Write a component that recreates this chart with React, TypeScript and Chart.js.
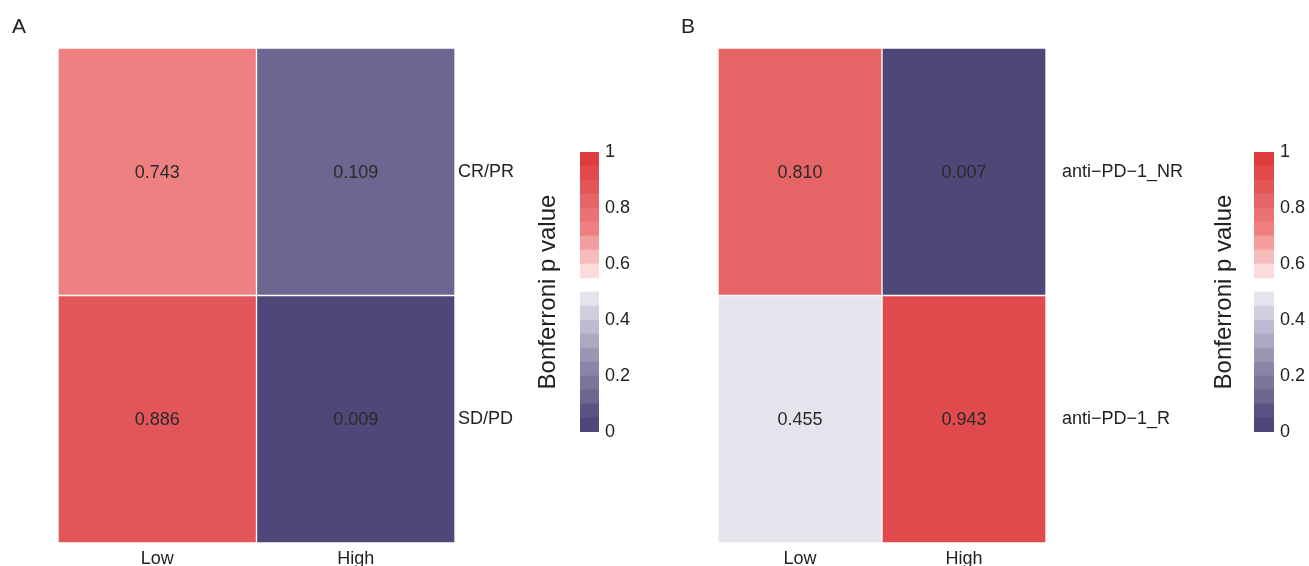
import React, { useEffect, useRef } from 'react';
import { Chart, registerables } from 'chart.js';

Chart.register(...registerables);

const FONT = "'Liberation Sans', Arial, Helvetica, sans-serif";
const TEXT = '#222222';

// ---- data ----
const colLabels = ['Low', 'High'];

const rowsA = ['CR/PR', 'SD/PD'];
const valuesA_CRPR = [0.743, 0.109];
const valuesA_SDPD = [0.886, 0.009];

const rowsB = ['anti\u2212PD\u22121_NR', 'anti\u2212PD\u22121_R'];
const valuesB_NR = [0.81, 0.007];
const valuesB_R = [0.455, 0.943];

const legendTitle = 'Bonferroni p value';
const legendMin = 0;
const legendMax = 1;
const legendStep = 0.2;

// colour bands of the stepped colour key (lower bounds, upper bounds)
const blueLows = [0, 0.05, 0.1, 0.15, 0.2, 0.25, 0.3, 0.35, 0.4, 0.45];
const blueHighs = [0.05, 0.1, 0.15, 0.2, 0.25, 0.3, 0.35, 0.4, 0.45, 0.5];
const blueColors = ['#4e4879', '#595384', '#6c6690', '#7a7599', '#8a85a6', '#9b97b3', '#aca9c1', '#bebbd0', '#d1cfde', '#e5e3ec'];
const redLows = [0.55, 0.6, 0.65, 0.7, 0.75, 0.8, 0.85, 0.9, 0.95];
const redHighs = [0.6, 0.65, 0.7, 0.75, 0.8, 0.85, 0.9, 0.95, 1];
const redColors = ['#fadcdc', '#f6bcbd', '#f29d9e', '#ee8081', '#ea7274', '#e56567', '#e2565a', '#e04a4c', '#de3d3d'];

function colorFor(v: number): string {
  for (let i = 0; i < blueLows.length; i++) {
    if (v >= blueLows[i] && v < blueHighs[i]) return blueColors[i];
  }
  if (v < redLows[0]) return redColors[0];
  for (let i = 0; i < redLows.length; i++) {
    if (v >= redLows[i] && v <= redHighs[i]) return redColors[i];
  }
  return redColors[redColors.length - 1];
}

const valueLabels = {
  id: 'valueLabels',
  afterDatasetsDraw(chart: any) {
    const ctx = chart.ctx;
    ctx.save();
    ctx.font = `18px ${FONT}`;
    ctx.fillStyle = '#2a2a2a';
    ctx.textAlign = 'center';
    ctx.textBaseline = 'middle';
    chart.data.datasets.forEach((ds: any, i: number) => {
      if (!ds.cellValues) return;
      const meta = chart.getDatasetMeta(i);
      meta.data.forEach((el: any, j: number) => {
        const p = el.getProps(['x', 'y', 'base'], true);
        ctx.fillText(ds.cellValues[j].toFixed(3), p.x, (p.y + p.base) / 2 + 1);
      });
    });
    ctx.restore();
  },
};

const noPad = (s: any) => {
  s.paddingTop = 0;
  s.paddingBottom = 0;
  s.paddingLeft = 0;
  s.paddingRight = 0;
};

function makeHeatmap(
  canvas: HTMLCanvasElement,
  rows: string[],
  values: number[][],
  padLeft: number,
  rightWidth: number,
  labelPad: number,
) {
  const n = rows.length;
  const datasets = rows.map((r, i) => ({
    label: r,
    data: colLabels.map(() => [n - 1 - i, n - i]),
    cellValues: values[i],
    backgroundColor: values[i].map(colorFor),
    borderColor: '#ffffff',
    borderWidth: 1,
    borderSkipped: false,
    grouped: false,
    barPercentage: 1,
    categoryPercentage: 1,
  }));
  return new Chart(canvas, {
    type: 'bar',
    data: { labels: colLabels, datasets: datasets as any },
    plugins: [valueLabels],
    options: {
      responsive: false,
      animation: false,
      layout: { padding: { left: padLeft, top: 48, right: 0, bottom: 0 } },
      plugins: { legend: { display: false }, tooltip: { enabled: false } },
      scales: {
        x: {
          type: 'category',
          grid: { display: false, drawTicks: false, tickLength: 0 },
          border: { display: false },
          ticks: { font: { family: FONT, size: 18 }, color: TEXT, padding: 5, maxRotation: 0 },
          afterFit: (s: any) => { s.height = 23; noPad(s); },
        },
        y: { type: 'linear', min: 0, max: n, display: false },
        yLab: {
          type: 'category',
          labels: rows,
          position: 'right',
          offset: true,
          grid: { display: false, drawTicks: false, tickLength: 0 },
          border: { display: false },
          ticks: { font: { family: FONT, size: 18 }, color: TEXT, padding: labelPad },
          afterFit: (s: any) => { s.width = rightWidth; noPad(s); },
        },
      } as any,
    },
  });
}

function makeKey(canvas: HTMLCanvasElement, leftWidth: number, rightWidth: number, titlePad: number) {
  const lows = [...blueLows, ...redLows];
  const highs = [...blueHighs, ...redHighs];
  const cols = [...blueColors, ...redColors];
  const datasets = lows.map((lo, i) => ({
    data: [[lo, highs[i]]],
    backgroundColor: cols[i],
    borderColor: cols[i],
    borderWidth: 0,
    grouped: false,
    barPercentage: 1,
    categoryPercentage: 1,
  }));
  return new Chart(canvas, {
    type: 'bar',
    data: { labels: [''], datasets: datasets as any },
    options: {
      responsive: false,
      animation: false,
      layout: { padding: { top: 152, bottom: 134, left: 0, right: 0 } },
      plugins: { legend: { display: false }, tooltip: { enabled: false } },
      scales: {
        x: { type: 'category', display: false },
        y: {
          type: 'linear',
          min: legendMin,
          max: legendMax,
          position: 'right',
          grid: { display: false, drawTicks: false, tickLength: 0 },
          border: { display: false },
          ticks: {
            stepSize: legendStep,
            font: { family: FONT, size: 18 },
            color: TEXT,
            padding: 6,
            callback: (v: any) => String(parseFloat(Number(v).toFixed(2))),
          },
          afterFit: (s: any) => { s.width = rightWidth; noPad(s); },
        },
        yTitle: {
          type: 'linear',
          min: legendMin,
          max: legendMax,
          position: 'left',
          grid: { display: false, drawTicks: false, tickLength: 0 },
          border: { display: false },
          ticks: { display: false },
          title: {
            display: true,
            text: legendTitle,
            color: TEXT,
            font: { family: FONT, size: 24 },
            padding: { top: titlePad, bottom: 0 },
          },
          afterFit: (s: any) => { s.width = leftWidth; noPad(s); },
        },
      } as any,
    },
  });
}

export default function App() {
  const hA = useRef<HTMLCanvasElement>(null);
  const kA = useRef<HTMLCanvasElement>(null);
  const hB = useRef<HTMLCanvasElement>(null);
  const kB = useRef<HTMLCanvasElement>(null);

  useEffect(() => {
    document.body.style.margin = '0';
    const charts = [
      makeHeatmap(hA.current!, rowsA, [valuesA_CRPR, valuesA_SDPD], 58, 85, 3),
      makeKey(kA.current!, 60, 51, 14),
      makeHeatmap(hB.current!, rowsB, [valuesB_NR, valuesB_R], 58, 154, 16),
      makeKey(kB.current!, 64, 35, 20),
    ];
    return () => charts.forEach((c) => c.destroy());
  }, []);

  const abs = (left: number, width: number): React.CSSProperties => ({
    position: 'absolute', left, top: 0, width, height: 566,
  });
  const letter = (left: number): React.CSSProperties => ({
    position: 'absolute', left, top: 15, fontFamily: FONT, fontSize: 21,
    lineHeight: '21px', color: TEXT,
  });

  return (
    <div style={{ position: 'relative', width: 1309, height: 566, background: '#ffffff', overflow: 'hidden' }}>
      <canvas ref={hA} width={540} height={566} style={abs(0, 540)} />
      <canvas ref={kA} width={130} height={566} style={abs(520, 130)} />
      <canvas ref={hB} width={540} height={566} style={abs(660, 540)} />
      <canvas ref={kB} width={119} height={566} style={abs(1190, 119)} />
      <div style={letter(12)}>A</div>
      <div style={letter(681)}>B</div>
    </div>
  );
}
